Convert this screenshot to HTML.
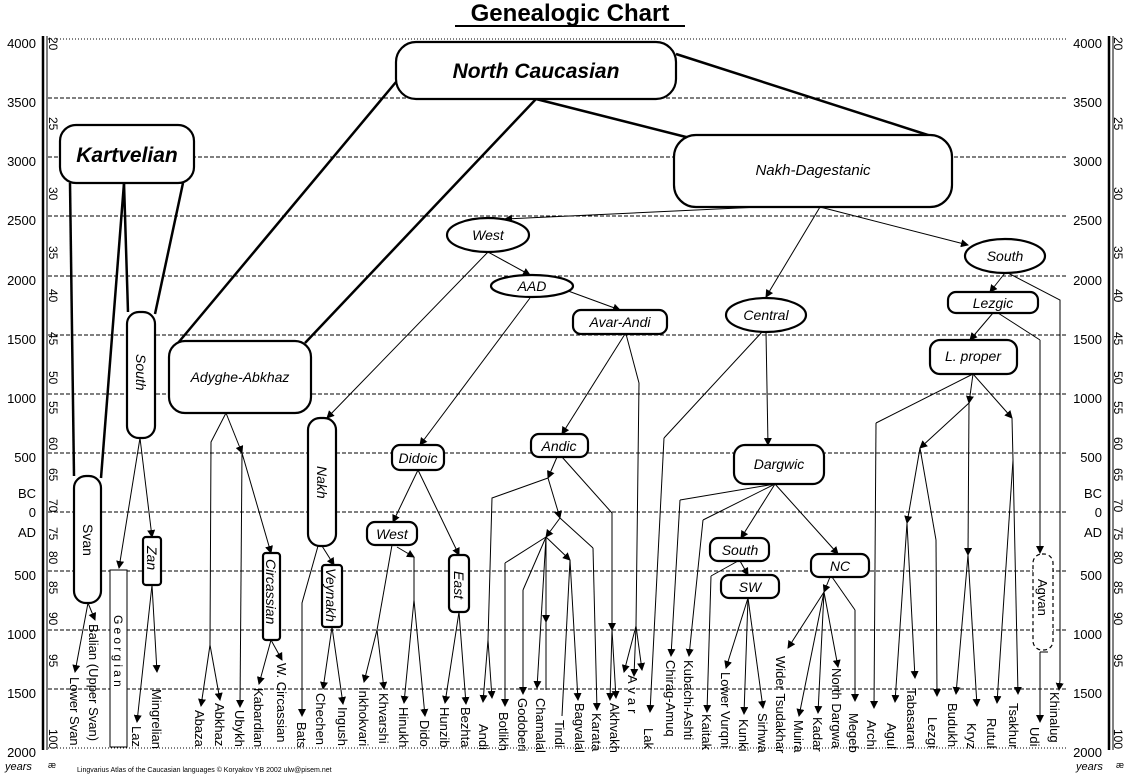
<!DOCTYPE html>
<html><head><meta charset="utf-8"><style>
html,body{margin:0;padding:0;background:#fff;}
svg{display:block;}
text{font-family:"Liberation Sans",sans-serif;fill:#000;}
.g{stroke:#000;stroke-width:1;stroke-dasharray:4,2;}
.d{stroke:#000;stroke-width:1;stroke-dasharray:1,2;}
.a{fill:none;stroke:#000;stroke-width:1;marker-end:url(#ar);}
.l{fill:none;stroke:#000;stroke-width:1;}
.t{fill:none;stroke:#000;stroke-width:2.5;}
.n{fill:#fff;stroke:#000;stroke-width:2.2;}
.lf{font-size:13px;}
.ax{font-size:13px;}
.sm{font-size:12px;}
.it{font-style:italic;font-size:14px;}
</style></head><body>
<svg width="1125" height="775" viewBox="0 0 1125 775" xmlns="http://www.w3.org/2000/svg">
<defs><marker id="ar" markerWidth="8" markerHeight="8" refX="7" refY="4" orient="auto" markerUnits="userSpaceOnUse"><path d="M0,0 L8,4 L0,8 z" fill="#000"/></marker></defs>

<!-- title -->
<text x="570" y="21" text-anchor="middle" font-size="24" font-weight="bold">Genealogic Chart</text>
<line x1="455" y1="26" x2="685" y2="26" stroke="#000" stroke-width="2"/>

<!-- grid -->
<line x1="48" y1="39" x2="1068" y2="39" class="d"/>
<line x1="48" y1="98" x2="1068" y2="98" class="g"/>
<line x1="48" y1="157" x2="1068" y2="157" class="g"/>
<line x1="48" y1="216" x2="1068" y2="216" class="g"/>
<line x1="48" y1="276" x2="1068" y2="276" class="g"/>
<line x1="48" y1="335" x2="1068" y2="335" class="g"/>
<line x1="48" y1="394" x2="1068" y2="394" class="g"/>
<line x1="48" y1="453" x2="1068" y2="453" class="g"/>
<line x1="48" y1="512" x2="1068" y2="512" class="g"/>
<line x1="48" y1="571" x2="1068" y2="571" class="g"/>
<line x1="48" y1="630" x2="1068" y2="630" class="g"/>
<line x1="48" y1="689" x2="1068" y2="689" class="g"/>
<line x1="48" y1="748" x2="1068" y2="748" class="d"/>

<!-- left axis -->
<line x1="43" y1="36" x2="43" y2="750" stroke="#000" stroke-width="2.5"/>
<line x1="47" y1="36" x2="47" y2="750" stroke="#000" stroke-width="1"/>
<g class="ax" text-anchor="end">
<text x="36" y="48">4000</text><text x="36" y="107">3500</text><text x="36" y="166">3000</text><text x="36" y="225">2500</text><text x="36" y="285">2000</text><text x="36" y="344">1500</text><text x="36" y="403">1000</text><text x="36" y="462">500</text><text x="36" y="498">BC</text><text x="36" y="517">0</text><text x="36" y="537">AD</text><text x="36" y="580">500</text><text x="36" y="639">1000</text><text x="36" y="698">1500</text><text x="36" y="757">2000</text>
</g>
<!-- right axis -->
<line x1="1109" y1="36" x2="1109" y2="750" stroke="#000" stroke-width="2.5"/>
<line x1="1113" y1="36" x2="1113" y2="750" stroke="#000" stroke-width="1"/>
<g class="ax" text-anchor="end">
<text x="1102" y="48">4000</text><text x="1102" y="107">3500</text><text x="1102" y="166">3000</text><text x="1102" y="225">2500</text><text x="1102" y="285">2000</text><text x="1102" y="344">1500</text><text x="1102" y="403">1000</text><text x="1102" y="462">500</text><text x="1102" y="498">BC</text><text x="1102" y="517">0</text><text x="1102" y="537">AD</text><text x="1102" y="580">500</text><text x="1102" y="639">1000</text><text x="1102" y="698">1500</text><text x="1102" y="757">2000</text>
</g>
<!-- inner scale numbers -->
<g class="sm">
<text transform="translate(49,37) rotate(90)">20</text><text transform="translate(49,117) rotate(90)">25</text><text transform="translate(49,187) rotate(90)">30</text><text transform="translate(49,246) rotate(90)">35</text><text transform="translate(49,289) rotate(90)">40</text><text transform="translate(49,332) rotate(90)">45</text><text transform="translate(49,371) rotate(90)">50</text><text transform="translate(49,401) rotate(90)">55</text><text transform="translate(49,437) rotate(90)">60</text><text transform="translate(49,468) rotate(90)">65</text><text transform="translate(49,499) rotate(90)">70</text><text transform="translate(49,527) rotate(90)">75</text><text transform="translate(49,551) rotate(90)">80</text><text transform="translate(49,581) rotate(90)">85</text><text transform="translate(49,612) rotate(90)">90</text><text transform="translate(49,654) rotate(90)">95</text><text transform="translate(49,729) rotate(90)">100</text>
<text transform="translate(1114,37) rotate(90)">20</text><text transform="translate(1114,117) rotate(90)">25</text><text transform="translate(1114,187) rotate(90)">30</text><text transform="translate(1114,246) rotate(90)">35</text><text transform="translate(1114,289) rotate(90)">40</text><text transform="translate(1114,332) rotate(90)">45</text><text transform="translate(1114,371) rotate(90)">50</text><text transform="translate(1114,401) rotate(90)">55</text><text transform="translate(1114,437) rotate(90)">60</text><text transform="translate(1114,468) rotate(90)">65</text><text transform="translate(1114,499) rotate(90)">70</text><text transform="translate(1114,527) rotate(90)">75</text><text transform="translate(1114,551) rotate(90)">80</text><text transform="translate(1114,581) rotate(90)">85</text><text transform="translate(1114,612) rotate(90)">90</text><text transform="translate(1114,654) rotate(90)">95</text><text transform="translate(1114,729) rotate(90)">100</text>
</g>
<text x="5" y="770" font-size="11" font-style="italic">years</text><text x="48" y="768" font-size="9">æ</text>
<text x="1076" y="770" font-size="11" font-style="italic">years</text><text x="1116" y="768" font-size="9">æ</text>
<text x="77" y="772" font-size="7">Lingvarius  Atlas of the Caucasian languages © Koryakov YB  2002  ulw@pisem.net</text>

<!-- thick top connectors -->
<polyline class="t" points="70,183 74,476"/>
<polyline class="t" points="124,183 101,478"/>
<polyline class="t" points="124,183 128,312"/>
<polyline class="t" points="183,183 155,314"/>
<polyline class="t" points="396,82 178,343"/>
<polyline class="t" points="536,99 305,343"/>
<polyline class="t" points="676,54 931,136"/>
<polyline class="t" points="536,99 690,138"/>

<!-- Kartvelian subtree -->
<polyline class="a" points="88,603 75,672"/>
<polyline class="a" points="88,603 95,620"/>
<polyline class="a" points="140,438 119,568"/>
<polyline class="a" points="140,438 152,537"/>
<polyline class="a" points="152,585 137,722"/>
<polyline class="a" points="152,585 157,672"/>

<!-- Adyghe-Abkhaz -->
<polyline class="l" points="226,413 211,442 210,645"/>
<polyline class="a" points="210,645 201,706"/>
<polyline class="a" points="210,645 220,700"/>
<polyline class="a" points="226,413 242,453"/>
<polyline class="a" points="242,453 240,707"/>
<polyline class="a" points="242,453 271,553"/>
<polyline class="a" points="271,640 259,684"/>
<polyline class="a" points="271,640 282,660"/>

<!-- Nakh-Dagestanic top -->
<polyline class="a" points="760,207 505,219"/>
<polyline class="a" points="820,207 766,297"/>
<polyline class="a" points="820,207 968,245"/>
<polyline class="a" points="488,252 530,275"/>
<polyline class="a" points="488,252 327,418"/>
<polyline class="a" points="530,298 420,445"/>
<polyline class="a" points="560,288 620,310"/>

<!-- Nakh -->
<polyline class="a" points="322,546 334,565"/>
<polyline class="l" points="318,546 302,603 302,640"/>
<polyline class="a" points="302,640 302,716"/>
<polyline class="a" points="332,627 323,689"/>
<polyline class="a" points="332,627 343,704"/>

<!-- Didoic -->
<polyline class="a" points="418,470 393,522"/>
<polyline class="a" points="418,470 459,555"/>
<polyline class="l" points="392,545 377,630"/>
<polyline class="a" points="377,630 364,682"/>
<polyline class="a" points="377,630 384,689"/>
<polyline class="a" points="397,547 414,557"/>
<polyline class="l" points="414,557 414,600"/>
<polyline class="a" points="414,600 404,703"/>
<polyline class="a" points="414,600 425,716"/>
<polyline class="a" points="459,612 445,703"/>
<polyline class="a" points="459,612 466,704"/>

<!-- Avar-Andi -->
<polyline class="a" points="625,334 562,434"/>
<polyline class="l" points="626,334 639,383 636,626"/>
<polyline class="a" points="636,626 624,672"/>
<polyline class="a" points="636,626 634,676"/>
<polyline class="a" points="636,626 642,670"/>
<polyline class="a" points="557,457 548,478"/>
<polyline class="l" points="548,478 492,498 488,640"/>
<polyline class="a" points="488,640 483,702"/>
<polyline class="a" points="488,640 492,698"/>
<polyline class="a" points="548,478 560,518"/>
<polyline class="a" points="560,518 546,537"/>
<polyline class="l" points="546,537 505,563"/>
<polyline class="a" points="505,563 505,706"/>
<polyline class="l" points="546,537 523,590"/>
<polyline class="a" points="523,590 523,694"/>
<polyline class="a" points="546,537 537,688"/>
<polyline class="a" points="546,537 546,622"/>
<polyline class="l" points="546,622 546,690"/>
<polyline class="a" points="546,537 570,560"/>
<polyline class="a" points="570,560 578,700"/>
<polyline class="l" points="570,560 562,716"/>
<polyline class="l" points="560,518 593,548"/>
<polyline class="a" points="593,548 597,710"/>
<polyline class="l" points="562,457 612,513"/>
<polyline class="a" points="612,513 612,630"/>
<polyline class="a" points="612,630 610,700"/>
<polyline class="a" points="612,630 616,698"/>

<!-- Central / Dargwic -->
<polyline class="a" points="766,332 768,445"/>
<polyline class="l" points="762,332 664,438"/>
<polyline class="a" points="664,438 650,712"/>
<polyline class="l" points="775,484 680,500"/>
<polyline class="a" points="680,500 671,656"/>
<polyline class="l" points="775,484 703,520"/>
<polyline class="a" points="703,520 689,656"/>
<polyline class="a" points="775,484 741,538"/>
<polyline class="a" points="775,484 838,554"/>
<polyline class="a" points="740,561 748,575"/>
<polyline class="l" points="738,561 711,576"/>
<polyline class="a" points="711,576 707,712"/>
<polyline class="a" points="748,598 726,668"/>
<polyline class="a" points="748,598 744,714"/>
<polyline class="a" points="748,598 763,708"/>
<polyline class="a" points="830,577 824,592"/>
<polyline class="a" points="824,592 788,648"/>
<polyline class="a" points="824,592 799,716"/>
<polyline class="a" points="824,592 818,713"/>
<polyline class="a" points="824,592 838,667"/>
<polyline class="l" points="832,577 855,610"/>
<polyline class="a" points="855,610 855,701"/>

<!-- South / Lezgic -->
<polyline class="a" points="1005,273 990,292"/>
<polyline class="l" points="1008,273 1060,300 1060,680"/>
<polyline class="a" points="1060,680 1059,690"/>
<polyline class="a" points="993,313 970,340"/>
<polyline class="l" points="998,313 1040,340"/>
<polyline class="a" points="1040,340 1040,553" stroke-width="2"/>
<polyline class="l" points="973,374 876,423"/>
<polyline class="a" points="876,423 874,708"/>
<polyline class="a" points="973,374 969,403"/>
<polyline class="a" points="969,403 920,448"/>
<polyline class="a" points="920,448 907,523"/>
<polyline class="l" points="920,448 936,540"/>
<polyline class="a" points="936,540 937,696"/>
<polyline class="a" points="907,523 895,702"/>
<polyline class="a" points="907,523 915,678"/>
<polyline class="a" points="969,403 968,555" stroke-width="2"/>
<polyline class="a" points="968,555 956,694"/>
<polyline class="a" points="968,555 977,706"/>
<polyline class="a" points="973,374 1012,418"/>
<polyline class="l" points="1012,418 1013,460"/>
<polyline class="a" points="1013,460 997,703"/>
<polyline class="a" points="1013,460 1018,694"/>
<polyline class="l" points="1048,652 1040,652"/>
<polyline class="a" points="1040,652 1040,722" stroke-width="2"/>

<!-- Nodes -->
<rect class="n" x="60" y="125" width="134" height="58" rx="16"/>
<text x="127" y="162" text-anchor="middle" font-size="21" font-weight="bold" font-style="italic">Kartvelian</text>
<rect class="n" x="396" y="42" width="280" height="57" rx="20"/>
<text x="536" y="78" text-anchor="middle" font-size="21" font-weight="bold" font-style="italic">North Caucasian</text>
<rect class="n" x="674" y="135" width="278" height="72" rx="22"/>
<text x="813" y="175" text-anchor="middle" font-size="15" font-style="italic">Nakh-Dagestanic</text>
<rect class="n" x="169" y="341" width="142" height="72" rx="16"/>
<text x="240" y="382" text-anchor="middle" class="it">Adyghe-Abkhaz</text>

<rect class="n" x="127" y="312" width="28" height="126" rx="12"/>
<text transform="translate(136,354) rotate(90)" class="it">South</text>
<rect class="n" x="74" y="476" width="27" height="127" rx="12"/>
<text transform="translate(83,524) rotate(90)" font-size="14">Svan</text>
<rect x="110" y="570" width="17" height="177" fill="#fff" stroke="#000" stroke-width="1"/>
<text transform="translate(114,615) rotate(90)" font-size="12" letter-spacing="3.2">Georgian</text>
<rect class="n" x="143" y="537" width="18" height="48" rx="3" stroke-width="1.8"/>
<text transform="translate(147,546) rotate(90)" class="it">Zan</text>
<rect class="n" x="263" y="553" width="17" height="87" rx="3" stroke-width="1.8"/>
<text transform="translate(266,559) rotate(90)" class="it">Circassian</text>
<rect class="n" x="308" y="418" width="28" height="128" rx="12"/>
<text transform="translate(317,466) rotate(90)" class="it">Nakh</text>
<rect class="n" x="322" y="565" width="20" height="62" rx="3" stroke-width="1.8"/>
<text transform="translate(326,568) rotate(90)" class="it">Veynakh</text>
<rect class="n" x="449" y="555" width="20" height="57" rx="5" stroke-width="1.8"/>
<text transform="translate(454,571) rotate(90)" class="it">East</text>

<ellipse class="n" cx="488" cy="235" rx="41" ry="17"/>
<text x="488" y="240" text-anchor="middle" class="it">West</text>
<ellipse class="n" cx="532" cy="286" rx="41" ry="11"/>
<text x="532" y="291" text-anchor="middle" class="it">AAD</text>
<rect class="n" x="573" y="310" width="94" height="24" rx="8"/>
<text x="620" y="327" text-anchor="middle" class="it">Avar-Andi</text>
<ellipse class="n" cx="766" cy="315" rx="40" ry="17"/>
<text x="766" y="320" text-anchor="middle" class="it">Central</text>
<ellipse class="n" cx="1005" cy="256" rx="40" ry="17"/>
<text x="1005" y="261" text-anchor="middle" class="it">South</text>
<rect class="n" x="948" y="292" width="90" height="21" rx="8"/>
<text x="993" y="308" text-anchor="middle" class="it">Lezgic</text>
<rect class="n" x="930" y="340" width="87" height="34" rx="10"/>
<text x="973" y="361" text-anchor="middle" class="it">L. proper</text>
<rect class="n" x="392" y="445" width="52" height="25" rx="8"/>
<text x="418" y="463" text-anchor="middle" class="it">Didoic</text>
<rect class="n" x="367" y="522" width="50" height="23" rx="8"/>
<text x="392" y="539" text-anchor="middle" class="it">West</text>
<rect class="n" x="531" y="434" width="57" height="23" rx="8"/>
<text x="559" y="451" text-anchor="middle" class="it">Andic</text>
<rect class="n" x="734" y="445" width="90" height="39" rx="11"/>
<text x="779" y="469" text-anchor="middle" class="it">Dargwic</text>
<rect class="n" x="710" y="538" width="59" height="23" rx="8"/>
<text x="740" y="555" text-anchor="middle" class="it">South</text>
<rect class="n" x="721" y="575" width="58" height="23" rx="8"/>
<text x="750" y="592" text-anchor="middle" class="it">SW</text>
<rect class="n" x="811" y="554" width="58" height="23" rx="8"/>
<text x="840" y="571" text-anchor="middle" class="it">NC</text>
<rect x="1033" y="554" width="20" height="96" rx="9" fill="#fff" stroke="#000" stroke-width="1.2" stroke-dasharray="4,3"/>
<text transform="translate(1038,579) rotate(90)" font-size="13">Agvan</text>

<!-- Leaf labels -->
<g class="lf">
<text transform="translate(70,677) rotate(90)">Lower Svan</text>
<text transform="translate(89,624) rotate(90)">Balian (Upper Svan)</text>
<text transform="translate(132,726) rotate(90)">Laz</text>
<text transform="translate(152,689) rotate(90)">Mingrelian</text>
<text transform="translate(195,710) rotate(90)">Abaza</text>
<text transform="translate(215,703) rotate(90)">Abkhaz</text>
<text transform="translate(235,710) rotate(90)">Ubykh</text>
<text transform="translate(254,688) rotate(90)">Kabardian</text>
<text transform="translate(277,663) rotate(90)">W. Circassian</text>
<text transform="translate(297,722) rotate(90)">Bats</text>
<text transform="translate(316,693) rotate(90)">Chechen</text>
<text transform="translate(338,707) rotate(90)">Ingush</text>
<text transform="translate(359,687) rotate(90)">Inkhokvari</text>
<text transform="translate(379,693) rotate(90)">Khvarshi</text>
<text transform="translate(399,707) rotate(90)">Hinukh</text>
<text transform="translate(420,720) rotate(90)">Dido</text>
<text transform="translate(440,707) rotate(90)">Hunzib</text>
<text transform="translate(461,707) rotate(90)">Bezhta</text>
<text transform="translate(479,724) rotate(90)">Andi</text>
<text transform="translate(499,712) rotate(90)">Botlikh</text>
<text transform="translate(518,698) rotate(90)">Godoberi</text>
<text transform="translate(536,698) rotate(90)">Chamalal</text>
<text transform="translate(555,720) rotate(90)">Tindi</text>
<text transform="translate(575,703) rotate(90)">Bagvalal</text>
<text transform="translate(592,713) rotate(90)">Karata</text>
<text transform="translate(610,703) rotate(90)">Akhvakh</text>
<text transform="translate(628,675) rotate(90)" letter-spacing="4">Avar</text>
<text transform="translate(644,728) rotate(90)">Lak</text>
<text transform="translate(666,660) rotate(90)">Chirag-Amuq</text>
<text transform="translate(684,660) rotate(90)">Kubachi-Ashti</text>
<text transform="translate(702,714) rotate(90)">Kaitak</text>
<text transform="translate(721,672) rotate(90)">Lower Vurqni</text>
<text transform="translate(739,719) rotate(90)">Kunki</text>
<text transform="translate(758,713) rotate(90)">Sirhwa</text>
<text transform="translate(776,656) rotate(90)">Wider Tsudakhar</text>
<text transform="translate(794,720) rotate(90)">Muira</text>
<text transform="translate(813,717) rotate(90)">Kadar</text>
<text transform="translate(832,668) rotate(90)">North Dargwa</text>
<text transform="translate(849,713) rotate(90)">Megeb</text>
<text transform="translate(867,720) rotate(90)">Archi</text>
<text transform="translate(887,723) rotate(90)">Agul</text>
<text transform="translate(907,688) rotate(90)">Tabasaran</text>
<text transform="translate(928,717) rotate(90)">Lezgi</text>
<text transform="translate(948,703) rotate(90)">Budukh</text>
<text transform="translate(967,723) rotate(90)">Kryz</text>
<text transform="translate(987,718) rotate(90)">Rutul</text>
<text transform="translate(1009,703) rotate(90)">Tsakhur</text>
<text transform="translate(1030,727) rotate(90)">Udi</text>
<text transform="translate(1050,692) rotate(90)">Khinalug</text>
</g>
</svg>
</body></html>
